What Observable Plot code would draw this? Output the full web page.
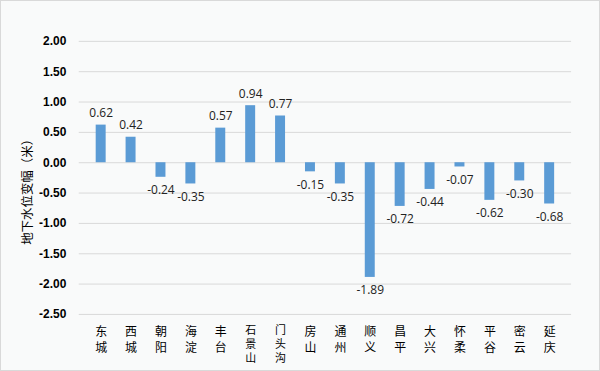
<!DOCTYPE html>
<html><head><meta charset="utf-8">
<script src="https://cdn.jsdelivr.net/npm/d3@7"></script>
<script src="https://cdn.jsdelivr.net/npm/@observablehq/plot@0.6"></script>
<style>
html,body{margin:0;padding:0;background:#fff;}
#chart{width:600px;height:371px;box-sizing:border-box;border:1px solid #d9d9d9;background:#f9fafa;position:relative;overflow:hidden;}
#chart svg{position:absolute;left:-1px;top:-1px;background:transparent;}
</style></head>
<body><div id="chart"></div>
<script>
const districts = ["东城","西城","朝阳","海淀","丰台","石景山","门头沟","房山","通州","顺义","昌平","大兴","怀柔","平谷","密云","延庆"];
const changes = [0.62,0.42,-0.24,-0.35,0.57,0.94,0.77,-0.15,-0.35,-1.89,-0.72,-0.44,-0.07,-0.62,-0.30,-0.68];
const yTicks = [2,1.5,1,0.5,0,-0.5,-1,-1.5,-2,-2.5];
const yLabel = "地下水位变幅（米）";

const data = districts.map((d,i)=>({d, v: changes[i]}));
const font = "'Noto Sans CJK SC', 'Noto Sans', sans-serif";
const numFont = "'Open Sans', sans-serif";

const plot = Plot.plot({
  width: 600, height: 371,
  marginLeft: 79, marginRight: 27, marginTop: 41, marginBottom: 56,
  style: {fontFamily: font, background: "transparent", color: "#000"},
  x: {domain: districts, paddingInner: 0.68, paddingOuter: 0.34, axis: null},
  y: {domain: [-2.5, 2], axis: null},
  marks: [
    Plot.ruleY(yTicks, {stroke: "#d9d9d9", strokeWidth: 1}),
    Plot.barY(data, {x: "d", y: "v", fill: "#5b9bd5"}),
    Plot.text(data.filter(r=>r.v>=0), {x: "d", y: "v", text: r=>r.v.toFixed(2), dy: -12, fontSize: 12, fill: "#222", fontFamily: numFont}),
    Plot.text(data.filter(r=>r.v<0), {x: "d", y: "v", text: r=>r.v.toFixed(2), dy: 13, fontSize: 12, fill: "#222", fontFamily: numFont}),
    Plot.text(yTicks, {y: d=>d, text: d=>d.toFixed(2), frameAnchor: "left", dx: -13, textAnchor: "end", fontSize: 12, fontWeight: "bold", fill: "#000", fontFamily: "'Liberation Sans', Arial, sans-serif"}),
    Plot.text([yLabel], {text: d=>d, frameAnchor: "left", textAnchor: "middle", dx: -51, dy: 11, rotate: -90, fontSize: 12.5, fill: "#000"}),
    Plot.text(districts.filter(d=>d.length<=2), {x: d=>d, y: -2.5, text: d=>d.split("").join("\n"), lineAnchor: "top", dy: 10, lineHeight: 1.35, fontSize: 12, fill: "#000"}),
    Plot.text(districts.filter(d=>d.length>2), {x: d=>d, y: -2.5, text: d=>d.split("").join("\n"), lineAnchor: "top", dy: 9, lineHeight: 1.3, fontSize: 11, fill: "#000"})
  ]
});
document.getElementById("chart").appendChild(plot);
</script>
</body></html>
